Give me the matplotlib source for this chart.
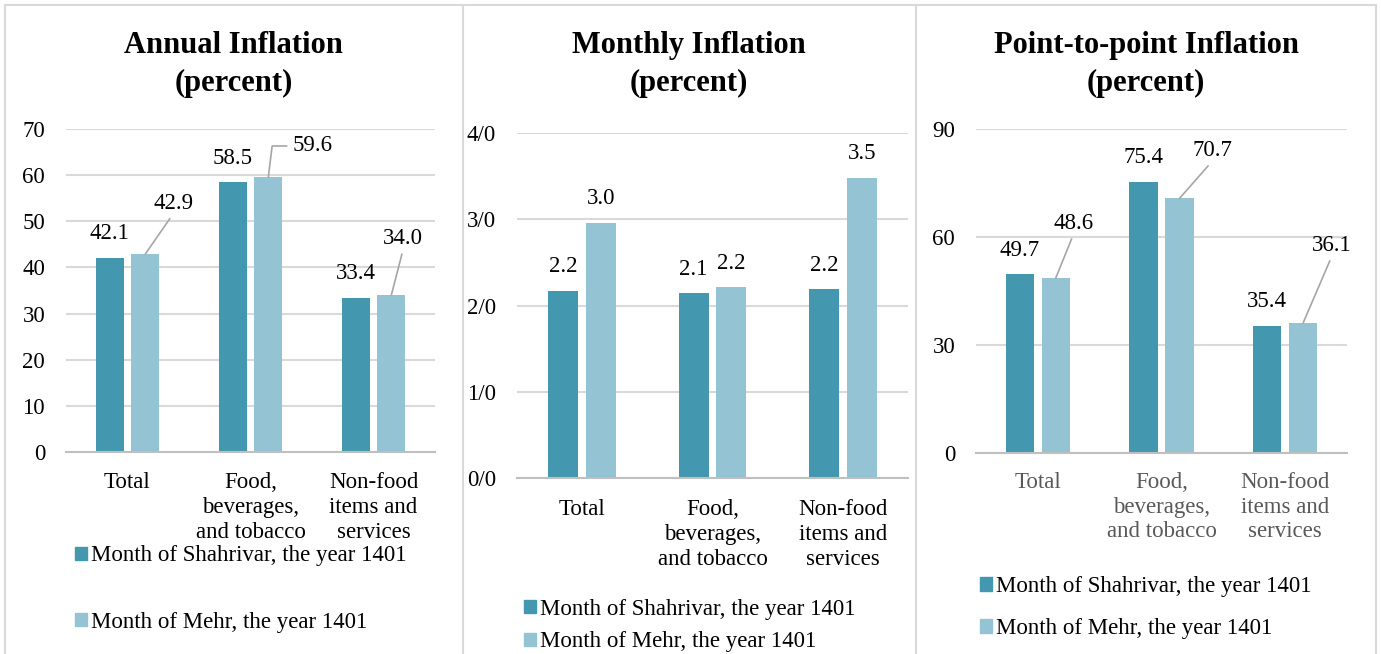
import matplotlib
matplotlib.use("Agg")
import matplotlib.pyplot as plt
from matplotlib.patches import Patch
from matplotlib.lines import Line2D
import numpy as np

plt.rcParams['font.family'] = ['Liberation Serif', 'DejaVu Serif']

categories = ["Total", "Food,\nbeverages,\nand tobacco", "Non-food\nitems and\nservices"]
series_names = ["Month of Shahrivar, the year 1401", "Month of Mehr, the year 1401"]

annual_shahrivar = [42.1, 58.5, 33.4]
annual_mehr = [42.9, 59.6, 34.0]
annual_ticks = [0, 10, 20, 30, 40, 50, 60, 70]
annual_ticklabels = ["0", "10", "20", "30", "40", "50", "60", "70"]

monthly_shahrivar = [2.17, 2.14, 2.19]
monthly_mehr = [2.96, 2.21, 3.48]
monthly_ticks = [0, 1, 2, 3, 4]
monthly_ticklabels = ["0/0", "1/0", "2/0", "3/0", "4/0"]

p2p_shahrivar = [49.7, 75.4, 35.4]
p2p_mehr = [48.6, 70.7, 36.1]
p2p_ticks = [0, 30, 60, 90]
p2p_ticklabels = ["0", "30", "60", "90"]

titles = ["Annual Inflation\n(percent)", "Monthly Inflation\n(percent)", "Point-to-point Inflation\n(percent)"]

DARK = "#4397ae"
LIGHT = "#94c3d4"
GRID = "#d9d9d9"
LEADER = "#a6a6a6"

W, H = 1381, 654
fig = plt.figure(figsize=(W / 100, H / 100), dpi=100)

px = 0.72  # points per pixel


def box(l, t, r, b):
    return [l / W, 1 - b / H, (r - l) / W, (b - t) / H]


# label offsets (pixels) for the second series; None -> plain label above bar
annual_offsets = [(28, 51, "line"), (44, 31, "elbow"), (12, 57, "line")]
p2p_offsets = [(18, 55, "line"), (33, 48, "line"), (29, 78, "line")]

panels = [
    dict(rect=box(66, 129, 435, 452), s1=annual_shahrivar, s2=annual_mehr, ylim=70,
         ticks=annual_ticks, tl=annual_ticklabels, off=annual_offsets, catcolor="black",
         xpad=14.5, leg=(75, 589), lsp=1.97, panel=(5, 462.5)),
    dict(rect=box(517, 133, 908, 478), s1=monthly_shahrivar, s2=monthly_mehr, ylim=4,
         ticks=monthly_ticks, tl=monthly_ticklabels, off=None, catcolor="black",
         xpad=15, leg=(524, 625.5), lsp=0.51, panel=(462.5, 916)),
    dict(rect=box(976, 129, 1347, 453), s1=p2p_shahrivar, s2=p2p_mehr, ylim=90,
         ticks=p2p_ticks, tl=p2p_ticklabels, off=p2p_offsets, catcolor="#595959",
         xpad=13.5, leg=(980, 607.5), lsp=0.92, panel=(916, 1376)),
]

x = np.arange(len(categories))
w = 0.23
d = 0.145

for i, p in enumerate(panels):
    ax = fig.add_axes(p["rect"])
    b1 = ax.bar(x - d, p["s1"], w, color=DARK, zorder=3)
    b2 = ax.bar(x + d, p["s2"], w, color=LIGHT, zorder=3)
    ax.set_xlim(-0.5, 2.5)
    ax.set_ylim(0, p["ylim"])
    ax.set_yticks(p["ticks"])
    ax.set_yticklabels(p["tl"])
    ax.set_xticks(x)
    ax.set_xticklabels(categories, linespacing=1.24, color=p["catcolor"])
    ax.tick_params(axis="y", length=0, pad=15, labelsize=16.5)
    ax.tick_params(axis="x", length=0, pad=p["xpad"], labelsize=16.5)
    ax.grid(axis="y", color=GRID, lw=1.5, zorder=0)
    for s in ["top", "right", "left"]:
        ax.spines[s].set_visible(False)
    ax.spines["bottom"].set_color("#bfbfbf")
    ax.spines["bottom"].set_linewidth(1.5)
    ax.spines["bottom"].set_zorder(4)

    for xi, v in zip(x - d, p["s1"]):
        ax.annotate(f"{v:.1f}", (xi, v), xytext=(0, 24 * px), textcoords="offset points",
                    ha="center", va="center", fontsize=16.5)
    for j, (xi, v) in enumerate(zip(x + d, p["s2"])):
        if p["off"] is None:
            ax.annotate(f"{v:.1f}", (xi, v), xytext=(0, 24 * px), textcoords="offset points",
                        ha="center", va="center", fontsize=16.5)
            continue
        ox, oy, kind = p["off"][j]
        if kind == "elbow":
            ap = dict(arrowstyle="-", color=LEADER, lw=1.2, relpos=(0, 0.5),
                      connectionstyle="angle,angleA=0,angleB=83,rad=0", shrinkB=0)
        else:
            ap = dict(arrowstyle="-", color=LEADER, lw=1.2, relpos=(0.5, 0), shrinkB=0)
        ax.annotate(f"{v:.1f}", (xi, v), xytext=(ox * px, oy * px), textcoords="offset points",
                    ha="center", va="center", fontsize=16.5, arrowprops=ap)

    handles = [Patch(color=DARK), Patch(color=LIGHT)]
    lx, ly = p["leg"]
    fig.legend(handles, series_names, loc="center left", bbox_to_anchor=(lx / W, 1 - ly / H),
               frameon=False, fontsize=16.5, handlelength=0.52, handleheight=0.52,
               handletextpad=0.17, labelspacing=p["lsp"], borderpad=0, borderaxespad=0)

    l, r = p["panel"]
    fig.text((l + r) / 2 / W, 1 - 64.5 / H, titles[i], ha="center", va="center",
             fontsize=22, fontweight="bold", linespacing=1.36)

# panel frames
for xv in [5, 462.5, 916, 1376]:
    fig.add_artist(Line2D([xv / W, xv / W], [0, 1 - 5 / H], color=GRID, lw=1.5))
fig.add_artist(Line2D([5 / W, 1376 / W], [1 - 5 / H, 1 - 5 / H], color=GRID, lw=1.5))

fig.savefig("out.png", dpi=100)
